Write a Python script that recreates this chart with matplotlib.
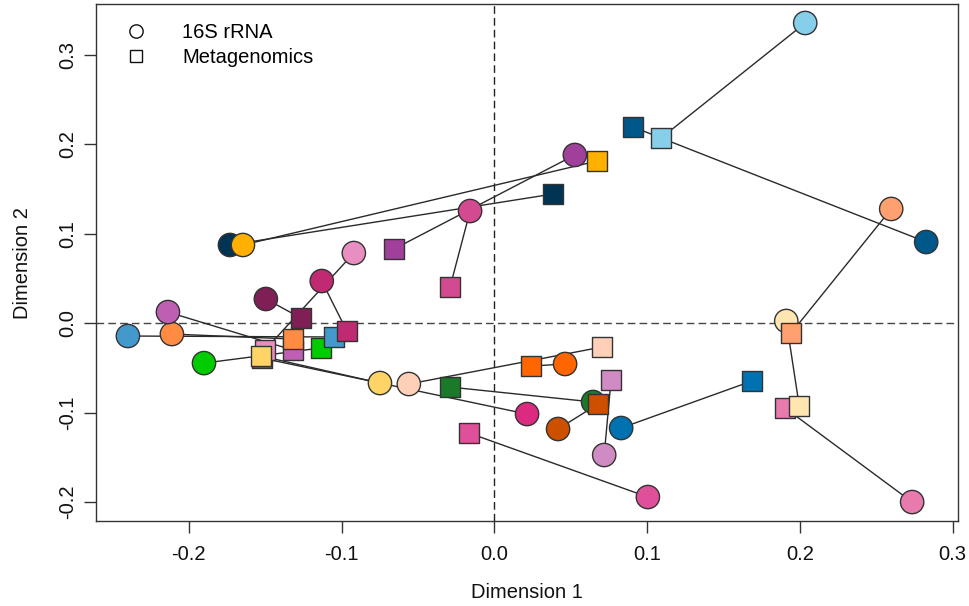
import matplotlib
matplotlib.use("Agg")
import matplotlib.pyplot as plt
from matplotlib.lines import Line2D

# Procrustes-rotated ordinations: 16S rRNA (circles) vs metagenomics (squares)
sample_colors = [
    "#87CEEB", "#00578A", "#FFA070", "#FFE6B0", "#E87AAE",
    "#0072B2", "#D08AC4", "#E0509A", "#1A7A2A", "#CC5000",
    "#DC2A80", "#FF6600", "#FFD0B8", "#FFD466", "#00CC00",
    "#4499CC", "#FF8C42", "#BF5FB3", "#003452", "#FFB000",
    "#7F1F55", "#C02A72", "#E88EC0", "#D44A90", "#A0409A",
]

rrna_x = [0.2035, 0.2827, 0.2598, 0.1911, 0.2735,
          0.0830, 0.0719, 0.1005, 0.0646, 0.0417,
          0.0214, 0.0463, -0.0560, -0.0749, -0.1901,
          -0.2399, -0.2111, -0.2137, -0.1731, -0.1646,
          -0.1496, -0.1130, -0.0920, -0.0159, 0.0527]
rrna_y = [0.3359, 0.0909, 0.1279, 0.0026, -0.1999,
          -0.1171, -0.1473, -0.1943, -0.0880, -0.1182,
          -0.1015, -0.0455, -0.0679, -0.0668, -0.0445,
          -0.0142, -0.0120, 0.0126, 0.0876, 0.0876,
          0.0272, 0.0473, 0.0786, 0.1256, 0.1883]

meta_x = [0.1092, 0.0908, 0.1943, 0.1996, 0.1903,
          0.1687, 0.0764, -0.0166, -0.0290, 0.0679,
          -0.1522, 0.0240, 0.0705, -0.1528, -0.1136,
          -0.1051, -0.1319, -0.1319, 0.0384, 0.0672,
          -0.1266, -0.0966, -0.1502, -0.0290, -0.0657]
meta_y = [0.2073, 0.2196, -0.0109, -0.0925, -0.0947,
          -0.0645, -0.0634, -0.1227, -0.0713, -0.0903,
          -0.0389, -0.0478, -0.0265, -0.0366, -0.0276,
          -0.0153, -0.0176, -0.0299, 0.1446, 0.1815,
          0.0059, -0.0086, -0.0299, 0.0406, 0.0831]

# drawing order for squares so that overlapping ones stack correctly
square_order = [0, 1, 2, 4, 3, 5, 6, 7, 8, 9, 10, 22, 13, 11, 12, 14,
                15, 17, 16, 18, 19, 20, 21, 23, 24]

x_ticks = [-0.2, -0.1, 0.0, 0.1, 0.2, 0.3]
y_ticks = [-0.2, -0.1, 0.0, 0.1, 0.2, 0.3]

plt.rcParams['font.family'] = ['Liberation Sans', 'DejaVu Sans']

fig = plt.figure(figsize=(9.69, 6.06), dpi=100)
ax = fig.add_axes([96 / 969, 1 - 521 / 606, (957.5 - 96) / 969, (521 - 4.3) / 606])

ax.axhline(0, color="#444444", lw=1.0, ls=(0, (5.5, 3)), zorder=1)
ax.axvline(0, color="#222222", lw=1.0, ls=(0, (5.5, 3)), zorder=1)

for cx, cy, mx, my in zip(rrna_x, rrna_y, meta_x, meta_y):
    ax.plot([cx, mx], [cy, my], color="#2a2a2a", lw=1.0, zorder=2,
            solid_capstyle="butt")

ax.scatter(rrna_x, rrna_y, s=16.8 ** 2, marker="o", c=sample_colors,
           edgecolors="#333333", linewidths=1.0, zorder=3)

ax.scatter([meta_x[i] for i in square_order], [meta_y[i] for i in square_order],
           s=14.6 ** 2, marker="s", c=[sample_colors[i] for i in square_order],
           edgecolors="#333333", linewidths=1.0, zorder=5)

ax.set_xlim(-0.2608, 0.3032)
ax.set_ylim(-0.2211, 0.3568)
ax.set_xticks(x_ticks)
ax.set_xticklabels([f"{v:.1f}" for v in x_ticks])
ax.set_yticks(y_ticks)
ax.set_yticklabels([f"{v:.1f}" for v in y_ticks], rotation=90, va="center")

for sp in ax.spines.values():
    sp.set_color("#333333")
    sp.set_linewidth(1.0)
ax.tick_params(axis="both", direction="out", length=8.6, width=1.0,
               color="#333333", labelsize=14.5, labelcolor="#111111")
ax.tick_params(axis="x", pad=9.0)
ax.tick_params(axis="y", pad=5.0)

ax.set_xlabel("Dimension 1", fontsize=14.5, color="#111111", labelpad=13)
ax.set_ylabel("Dimension 2", fontsize=14.5, color="#111111", labelpad=19)

handles = [
    Line2D([], [], marker="o", ls="none", markersize=9.6, markerfacecolor="none",
           markeredgecolor="#111111", markeredgewidth=1.0),
    Line2D([], [], marker="s", ls="none", markersize=8.9, markerfacecolor="none",
           markeredgecolor="#111111", markeredgewidth=1.0),
]
ax.legend(handles, ["16S rRNA", "Metagenomics"], loc="upper left",
          bbox_to_anchor=((126 - 96) / 861.5, 1 - 19 / 516.7),
          frameon=False, fontsize=14.5, handlelength=1.0, handletextpad=1.8,
          borderpad=0, borderaxespad=0, labelspacing=0.28)

fig.savefig("out.png", dpi=100)
